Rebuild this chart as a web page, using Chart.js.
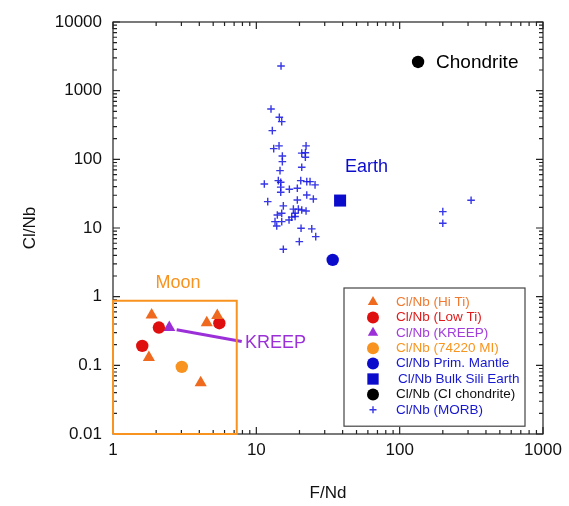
<!DOCTYPE html>
<html lang="en">
  <head>
    <meta charset="UTF-8" />
    <title>Cl/Nb vs F/Nd</title>
    <script src="https://cdn.jsdelivr.net/npm/chart.js"></script>
    <style>
      body {
        margin: 0;
        background: #fff;
      }
      #wrap {
        width: 569px;
        height: 506px;
      }
    </style>
  </head>
  <body>
    <div id="wrap"><canvas id="chart" width="569" height="506"></canvas></div>

    <script>
      // axis ticks
      const xTicks = [1, 10, 100, 1000];
      const xTickLabels = ["1", "10", "100", "1000"];
      const yTicks = [0.01, 0.1, 1, 10, 100, 1000, 10000];
      const yTickLabels = ["0.01", "0.1", "1", "10", "100", "1000", "10000"];

      // Moon samples
      const hiTiX = [1.86, 1.78, 4.51, 5.34, 4.09];
      const hiTiY = [0.543, 0.13, 0.416, 0.531, 0.0556];
      const lowTiX = [2.09, 1.6, 5.52];
      const lowTiY = [0.355, 0.192, 0.411];
      const kreepX = [2.47];
      const kreepY = [0.355];
      const mi74220X = [3.02];
      const mi74220Y = [0.095];

      // Earth / chondrite reference values
      const primMantleX = [34.1];
      const primMantleY = [3.43];
      const bulkSiliX = [38.4];
      const bulkSiliY = [25.1];
      const chondriteX = [134.4];
      const chondriteY = [2617];

      // MORB
      const morbX = [
        14.87, 12.66, 14.47, 15.04, 12.93, 13.22, 14.4, 22.23, 20.74, 21.98,
        15.19, 21.98, 15.19, 20.74, 14.63, 11.37, 14.24, 14.8, 20.41, 22.48,
        23.7, 25.68, 17.0, 19.32, 14.8, 22.48, 12.01, 24.99, 19.32, 15.43,
        18.13, 19.64, 20.74, 22.23, 15.04, 14.01, 18.63, 17.66, 16.91, 15.04,
        13.5, 13.88, 18.63, 20.51, 24.36, 25.97, 19.95, 15.43, 14.8, 200,
        200, 315,
      ];
      const morbY = [
        2288, 541, 410, 354, 262, 143, 157, 157, 123, 125, 112, 107, 92.6,
        76.7, 68.5, 43.8, 49.0, 46.4, 49.0, 47.4, 47.4, 42.4, 36.7, 38.0, 33.2,
        30.3, 24.2, 26.5, 25.6, 21.0, 18.8, 18.8, 18.3, 17.7, 16.4, 15.5, 16.4,
        14.4, 13.1, 12.4, 12.4, 10.7, 14.7, 9.93, 9.7, 7.5, 6.34, 4.91, 39.4,
        17.3, 11.7, 25.4,
      ];

      // Moon field outline and KREEP pointer line
      const moonBoxX = [1, 1, 7.3, 7.3, 1];
      const moonBoxY = [0.01, 0.87, 0.87, 0.01, 0.01];
      const kreepLineX = [2.78, 7.91];
      const kreepLineY = [0.329, 0.222];

      const zip = (xs, ys) => xs.map((x, i) => ({ x: x, y: ys[i] }));

      const blue = "#0b0bcc";
      const fontFamily = "'Liberation Sans', Arial, Helvetica, sans-serif";

      const datasets = [
        {
          label: "Cl/Nb (Hi Ti)",
          data: zip(hiTiX, hiTiY),
          pointStyle: "triangle",
          pointRadius: 7,
          backgroundColor: "#ef6a1e",
          borderWidth: 0,
          labelColor: "#f07a30",
          legend: true,
        },
        {
          label: "Cl/Nb (Low Ti)",
          data: zip(lowTiX, lowTiY),
          pointStyle: "circle",
          pointRadius: 6.2,
          backgroundColor: "#e00f0f",
          borderWidth: 0,
          labelColor: "#e01b1b",
          legend: true,
        },
        {
          label: "Cl/Nb (KREEP)",
          data: zip(kreepX, kreepY),
          pointStyle: "triangle",
          pointRadius: 7,
          backgroundColor: "#9b30d8",
          borderWidth: 0,
          labelColor: "#a23ddc",
          legend: true,
        },
        {
          label: "Cl/Nb (74220 MI)",
          data: zip(mi74220X, mi74220Y),
          pointStyle: "circle",
          pointRadius: 6.2,
          backgroundColor: "#f7931e",
          borderWidth: 0,
          labelColor: "#f7951f",
          legend: true,
        },
        {
          label: "Cl/Nb Prim. Mantle",
          data: zip(primMantleX, primMantleY),
          pointStyle: "circle",
          pointRadius: 6.2,
          backgroundColor: blue,
          borderWidth: 0,
          labelColor: "#1818d0",
          legend: true,
        },
        {
          label: "Cl/Nb Bulk Sili Earth",
          data: zip(bulkSiliX, bulkSiliY),
          pointStyle: "rect",
          pointRadius: 8.5,
          backgroundColor: blue,
          borderWidth: 0,
          labelColor: "#1818d0",
          legend: true,
        },
        {
          label: "Cl/Nb (CI chondrite)",
          data: zip(chondriteX, chondriteY),
          pointStyle: "circle",
          pointRadius: 6.2,
          backgroundColor: "#000",
          borderWidth: 0,
          labelColor: "#111",
          legend: true,
        },
        {
          label: "Cl/Nb (MORB)",
          data: zip(morbX, morbY),
          pointStyle: "cross",
          pointRadius: 3.8,
          borderColor: "rgba(20,20,225,0.85)",
          backgroundColor: "rgba(20,20,225,0.85)",
          borderWidth: 1.4,
          labelColor: "#1818d0",
          legend: true,
        },
        {
          label: "Moon box",
          data: zip(moonBoxX, moonBoxY),
          showLine: true,
          pointRadius: 0,
          borderColor: "#f7931e",
          borderWidth: 2,
          clip: false,
        },
        {
          label: "KREEP line",
          data: zip(kreepLineX, kreepLineY),
          showLine: true,
          pointRadius: 0,
          borderColor: "#9b30d8",
          borderWidth: 3,
        },
      ];

      // text labels placed at data coordinates
      const notes = [
        { text: "Chondrite", x: 179.5, y: 2530, color: "#000", align: "left", size: 19 },
        { text: "Earth", x: 41.6, y: 77.5, color: blue, align: "left", size: 18 },
        { text: "Moon", x: 2.84, y: 1.59, color: "#f7931e", align: "center", size: 18 },
        { text: "KREEP", x: 8.34, y: 0.213, color: "#9b30d8", align: "left", size: 18 },
      ];

      // frame with inward log ticks on all four sides
      const framePlugin = {
        id: "frame",
        beforeDatasetsDraw(chart) {
          const { ctx, chartArea: a, scales } = chart;
          ctx.save();
          ctx.strokeStyle = "#222";
          ctx.lineWidth = 1.2;
          ctx.strokeRect(a.left, a.top, a.right - a.left, a.bottom - a.top);
          ctx.beginPath();
          const mark = (axis, v, len) => {
            if (axis === "x") {
              const p = scales.x.getPixelForValue(v);
              ctx.moveTo(p, a.bottom);
              ctx.lineTo(p, a.bottom - len);
              ctx.moveTo(p, a.top);
              ctx.lineTo(p, a.top + len);
            } else {
              const p = scales.y.getPixelForValue(v);
              ctx.moveTo(a.left, p);
              ctx.lineTo(a.left + len, p);
              ctx.moveTo(a.right, p);
              ctx.lineTo(a.right - len, p);
            }
          };
          xTicks.forEach((d, i) => {
            mark("x", d, 7);
            if (i < xTicks.length - 1)
              for (let k = 2; k < 10; k++) mark("x", d * k, 4);
          });
          yTicks.forEach((d, i) => {
            mark("y", d, 7);
            if (i < yTicks.length - 1)
              for (let k = 2; k < 10; k++) mark("y", d * k, 4);
          });
          ctx.stroke();
          ctx.restore();
        },
        afterDatasetsDraw(chart) {
          const { ctx, scales } = chart;
          ctx.save();
          ctx.textBaseline = "middle";
          notes.forEach((n) => {
            ctx.font = n.size + "px " + fontFamily;
            ctx.fillStyle = n.color;
            ctx.textAlign = n.align;
            ctx.fillText(
              n.text,
              scales.x.getPixelForValue(n.x),
              scales.y.getPixelForValue(n.y)
            );
          });
          ctx.restore();
        },
      };

      // boxed legend inside the plot
      const legendPlugin = {
        id: "boxLegend",
        afterDraw(chart) {
          const ctx = chart.ctx;
          const items = chart.data.datasets.filter((d) => d.legend);
          const left = 344,
            top = 288,
            w = 181,
            rowH = 15.4;
          const h = items.length * rowH + 15;
          ctx.save();
          ctx.fillStyle = "#fff";
          ctx.fillRect(left, top, w, h);
          ctx.strokeStyle = "#444";
          ctx.lineWidth = 1.2;
          ctx.strokeRect(left, top, w, h);
          ctx.font = "13.5px " + fontFamily;
          ctx.textBaseline = "middle";
          items.forEach((d, i) => {
            const y = top + 14 + i * rowH;
            ctx.fillStyle = d.backgroundColor;
            ctx.strokeStyle = d.borderColor || d.backgroundColor;
            ctx.lineWidth = d.borderWidth;
            Chart.helpers.drawPoint(
              ctx,
              {
                pointStyle: d.pointStyle,
                radius: d.pointStyle === "cross" ? 3.5 : d.pointStyle === "rect" ? 8 : 6,
                borderWidth: d.borderWidth,
                rotation: 0,
              },
              373,
              y
            );
            ctx.fillStyle = d.labelColor;
            ctx.fillText(d.label, d.pointStyle === "rect" ? 398 : 396, y);
          });
          ctx.restore();
        },
      };

      new Chart(document.getElementById("chart"), {
        type: "scatter",
        data: { datasets: datasets },
        plugins: [framePlugin, legendPlugin],
        options: {
          responsive: false,
          animation: false,
          layout: { padding: { top: 22, right: 26, left: 0, bottom: 0 } },
          plugins: { legend: { display: false }, tooltip: { enabled: false } },
          scales: {
            x: {
              type: "logarithmic",
              min: 1,
              max: 1000,
              grid: { display: false, drawTicks: false },
              border: { display: false },
              afterBuildTicks: (s) => {
                s.ticks = xTicks.map((v) => ({ value: v }));
              },
              afterFit: (s) => {
                s.height = 72;
              },
              ticks: {
                autoSkip: false,
                maxRotation: 0,
                padding: 6,
                color: "#111",
                font: { family: fontFamily, size: 17 },
                callback: (v, i) => xTickLabels[i],
              },
              title: {
                display: true,
                text: "F/Nd",
                color: "#111",
                font: { family: fontFamily, size: 17 },
                padding: { top: 0, bottom: 2 },
              },
            },
            y: {
              type: "logarithmic",
              min: 0.01,
              max: 10000,
              grid: { display: false, drawTicks: false },
              border: { display: false },
              afterBuildTicks: (s) => {
                s.ticks = yTicks.map((v) => ({ value: v }));
              },
              afterFit: (s) => {
                s.width = 113;
              },
              ticks: {
                autoSkip: false,
                padding: 11,
                color: "#111",
                font: { family: fontFamily, size: 17 },
                callback: (v, i) => yTickLabels[i],
              },
              title: {
                display: true,
                text: "Cl/Nb",
                color: "#111",
                font: { family: fontFamily, size: 17 },
                padding: { top: 20, bottom: 0 },
              },
            },
          },
        },
      });
    </script>
  </body>
</html>
